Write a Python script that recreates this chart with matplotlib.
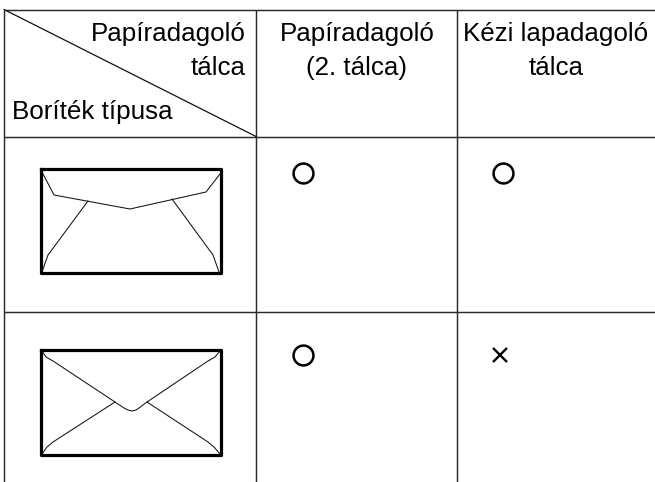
import matplotlib
matplotlib.use("Agg")
import matplotlib.pyplot as plt

plt.rcParams['font.family'] = ['Liberation Sans', 'DejaVu Sans']

corner_top = ["Papíradagoló", "tálca"]
corner_bottom = "Boríték típusa"
column_headers = [["Papíradagoló", "(2. tálca)"], ["Kézi lapadagoló", "tálca"]]
tray2_support = ["O", "O"]
manual_support = ["O", "x"]

column_edges = [4, 256, 457]
row_edges = [9.5, 136.5, 312]
column_right = 655
table_bottom = 482
header_centres = [357, 556]
symbol_x = [302.7, 502.7]
cross_x = 500
symbol_y = [173, 354.5]

# Envelope drawings
env1_box = ([41, 221, 221, 41, 41], [169, 169, 273, 273, 169])
env1_flap = ([42, 54, 130, 206, 220], [172, 195, 209, 192, 174])
env1_left = ([88, 48, 42], [201, 255, 272])
env1_right = ([172, 213, 219], [199, 255, 272])
env2_box = ([41, 221, 221, 41, 41], [349.8, 349.8, 454.5, 454.5, 349.8])
env2_flap = ([42, 46, 53, 115, 124, 128, 132, 136, 139, 147, 208, 215, 220],
             [351, 357, 361, 402, 408, 410, 411, 410, 408, 402, 361, 357, 351])
env2_left = ([115, 53, 47, 42], [402, 442, 447, 454])
env2_right = ([147, 208, 214, 220], [402, 442, 447, 454])

fig = plt.figure(figsize=(6.55, 4.82), dpi=100)
ax = fig.add_axes([0, 0, 1, 1])
ax.set_xlim(0, 655)
ax.set_ylim(482, 0)
ax.axis('off')

grid = dict(color='#2a2a2a', lw=1.05, solid_capstyle='butt')
for x in column_edges:
    ax.plot([x, x], [row_edges[0], table_bottom], **grid)
for y in row_edges:
    ax.plot([column_edges[0], column_right], [y, y], **grid)
ax.plot([column_edges[0], column_edges[1]], [row_edges[0], row_edges[1]], color='#111111', lw=0.9)

font = dict(fontsize=18.7, color='#000000', va='baseline')
baselines = [41.5, 75]
for line, y in zip(corner_top, baselines):
    ax.text(246, y, line, ha='right', **font)
ax.text(12, 119, corner_bottom, ha='left', **font)
for centre, lines in zip(header_centres, column_headers):
    for line, y in zip(lines, baselines):
        ax.text(centre, y, line, ha='center', **font)

for box, parts in [(env1_box, [env1_flap, env1_left, env1_right]),
                   (env2_box, [env2_flap, env2_left, env2_right])]:
    ax.plot(box[0], box[1], color='#000000', lw=2.3, solid_joinstyle='round')
    for px, py in parts:
        ax.plot(px, py, color='#111111', lw=0.75, solid_joinstyle='round')


def draw_symbol(x, y, kind):
    if kind == "O":
        ax.plot([x], [y], marker='o', ms=14.3, mfc='none', mec='#000000', mew=1.8)
    else:
        ax.plot([cross_x], [y], marker='x', ms=9.5, mec='#000000', mew=1.7)


for col, values in enumerate([tray2_support, manual_support]):
    for y, kind in zip(symbol_y, values):
        draw_symbol(symbol_x[col], y, kind)

fig.savefig("out.png", dpi=100)
